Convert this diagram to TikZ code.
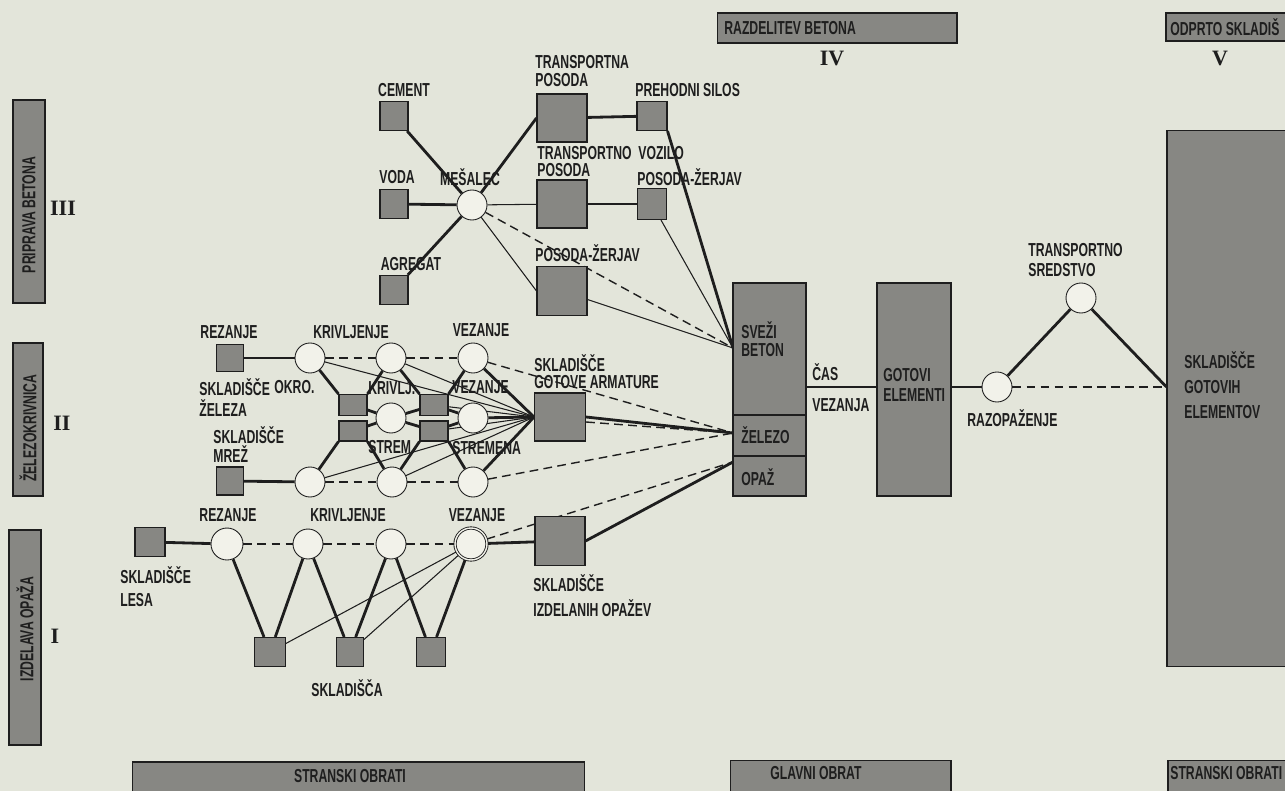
\documentclass[tikz,border=0pt]{standalone}
\usepackage{fontspec}
\setmainfont{Liberation Sans}[FakeStretch=0.65]
\newfontfamily\romfont{Liberation Serif}
\definecolor{bg}{HTML}{E3E5DA}
\definecolor{boxfill}{HTML}{878783}
\definecolor{circfill}{HTML}{F2F2EA}
\definecolor{ink}{HTML}{1E1E1E}
\pgfdeclarelayer{bgl}
\pgfdeclarelayer{edges}
\pgfsetlayers{bgl,edges,main}
\begin{document}
\begin{tikzpicture}[x=0.02cm,y=-0.02cm,
  lbl/.style={font=\bfseries\fontsize{10.7}{11}\selectfont, text=ink, inner sep=0},
  rom/.style={font=\romfont\bfseries\fontsize{12.5}{13}\selectfont, text=ink, inner sep=0},
  box/.style={draw=ink, line width=0.6pt, fill=boxfill, inner sep=0, minimum width=0.56cm, minimum height=0.58cm},
  bigbox/.style={box, minimum width=1cm, minimum height=0.96cm},
  tinybox/.style={box, minimum height=0.42cm},
  circ/.style={circle, draw=ink, line width=0.5pt, fill=circfill, minimum size=0.6cm, inner sep=0},
  thk/.style={line width=1.6pt, draw=ink},
  thn/.style={line width=0.6pt, draw=ink},
  dsh/.style={line width=0.8pt, draw=ink, dash pattern=on 5pt off 3pt},
  bar/.style={draw=ink, fill=boxfill, line width=0.6pt, inner sep=0}]
\useasboundingbox (0,0) rectangle (1285,791);
\clip (0,0) rectangle (1285,791);
\begin{pgfonlayer}{bgl}
\fill[bg] (0,0) rectangle (1285,791);
\end{pgfonlayer}

% ---------- bars ----------
\node[bar, minimum width=0.64cm, minimum height=4.06cm] (b3) at (29,201.5) {};
\node[lbl, rotate=90] (b3t) at (29,215) {PRIPRAVA BETONA};
\node[bar, minimum width=0.6cm, minimum height=3.06cm] (b2) at (28,419.5) {};
\node[lbl, rotate=90] (b2t) at (28,428) {ŽELEZOKRIVNICA};
\node[bar, minimum width=0.64cm, minimum height=4.3cm] (b1) at (25,637.5) {};
\node[lbl, rotate=90] (b1t) at (25,629) {IZDELAVA OPAŽA};
\node[rom] (r3) at (63,208) {III};
\node[rom] (r2) at (62,423) {II};
\node[rom] (r1) at (55,636) {I};

\node[bar, minimum width=4.8cm, minimum height=0.6cm] (razd) at (837,28) {};
\node[lbl, anchor=west] (razdt) at (724,28) {RAZDELITEV BETONA};
\node[rom] (r4) at (832,58) {IV};
\node[bar, minimum width=2.68cm, minimum height=0.56cm] (odp) at (1233,27) {};
\node[lbl, anchor=west] (odpt) at (1170,27) {ODPRTO SKLADIŠ};
\node[rom] (r5) at (1220,58) {V};

\node[bar, minimum width=9.06cm, minimum height=0.76cm] (sob) at (358.5,781) {};
\node[lbl] (sobt) at (350,776) {STRANSKI OBRATI};
\node[bar, minimum width=4.42cm, minimum height=0.78cm] (gob) at (840.5,780) {};
\node[lbl] (gobt) at (816,773) {GLAVNI OBRAT};
\node[bar, minimum width=2.64cm, minimum height=0.78cm] (sob2) at (1234,780) {};
\node[lbl, anchor=west] (sob2t) at (1170,773) {STRANSKI OBRATI};

% ---------- right part ----------
\node[bar, minimum width=2.66cm, minimum height=10.74cm] (big) at (1233.5,398.5) {};
\node[lbl, anchor=west] at (1184,360) {SKLADIŠČE};
\node[lbl, anchor=west] at (1184,387) {GOTOVIH};
\node[lbl, anchor=west] at (1184,412) {ELEMENTOV};

\node[bar, minimum width=1.46cm, minimum height=2.64cm] (svezi) at (769.5,349) {};
\node[bar, minimum width=1.46cm, minimum height=0.82cm] (zel) at (769.5,435.5) {};
\node[bar, minimum width=1.46cm, minimum height=0.8cm] (opz) at (769.5,476) {};
\node[lbl, anchor=west] at (741,330) {SVEŽI};
\node[lbl, anchor=west] at (741,350) {BETON};
\node[lbl, anchor=west] at (741,435) {ŽELEZO};
\node[lbl, anchor=west] at (741,477) {OPAŽ};
\node[lbl, anchor=west] at (812,372) {ČAS};
\node[lbl, anchor=west] at (812,405) {VEZANJA};

\node[bar, minimum width=1.48cm, minimum height=4.26cm] (gotovi) at (914,389.5) {};
\node[lbl, anchor=west] at (883,375) {GOTOVI};
\node[lbl, anchor=west] at (883,395) {ELEMENTI};

\node[circ] (raz) at (997,387) {};
\node[circ] (trans) at (1081,298) {};
\node[lbl, anchor=west] at (967,418) {RAZOPAŽENJE};
\node[lbl, anchor=west] at (1028,250) {TRANSPORTNO};
\node[lbl, anchor=west] at (1028,270) {SREDSTVO};

\coordinate (sv) at (733,348);
\coordinate (zl) at (733,433);
\coordinate (ol) at (733,462);

% ---------- section III ----------
\node[box] (cem) at (394,116) {};
\node[box] (vod) at (394,204) {};
\node[box] (agr) at (394,290) {};
\node[circ] (mes) at (472,205) {};
\node[bigbox] (tp1) at (562,118) {};
\node[bigbox] (tp2) at (562,204) {};
\node[bigbox, minimum height=0.98cm] (tp3) at (562,291) {};
\node[box, minimum width=0.6cm] (ps) at (652,116) {};
\node[box, minimum width=0.58cm, minimum height=0.62cm] (pz) at (652,204) {};

\node[lbl] at (404,90) {CEMENT};
\node[lbl] at (397,177) {VODA};
\node[lbl] at (411,264) {AGREGAT};
\node[lbl] at (470,177) {MEŠALEC};
\node[lbl, anchor=west] at (535,62) {TRANSPORTNA};
\node[lbl, anchor=west] at (535,80) {POSODA};
\node[lbl, anchor=west] at (635,90) {PREHODNI SILOS};
\node[lbl, anchor=west] at (537,153) {TRANSPORTNO};
\node[lbl, anchor=west] at (638,153) {VOZILO};
\node[lbl, anchor=west] at (537,170) {POSODA};
\node[lbl, anchor=west] at (637,177) {POSODA-ŽERJAV};
\node[lbl, anchor=west] at (535,253) {POSODA-ŽERJAV};

% ---------- section II ----------
\node[box, minimum width=0.54cm, minimum height=0.54cm] (rez) at (230,358) {};
\node[circ] (c1) at (310,358) {};
\node[circ] (c2) at (391,358) {};
\node[circ] (ctop) at (473,358) {};
\node[tinybox] (a1) at (353,405) {};
\node[tinybox, minimum height=0.4cm] (a2) at (353,431) {};
\node[circ] (c3) at (391,418) {};
\node[tinybox] (b1) at (434,405) {};
\node[tinybox, minimum height=0.4cm] (b2) at (434,431) {};
\node[circ] (cmid) at (473,418) {};
\node[box, minimum width=0.54cm, minimum height=0.56cm] (mrez) at (230,481) {};
\node[circ] (c4) at (310,482) {};
\node[circ] (c5) at (392,482) {};
\node[circ] (cbot) at (473,482) {};
\node[bigbox, minimum width=1.02cm] (arm) at (560,417) {};

\node[lbl] at (229,332) {REZANJE};
\node[lbl] at (351,332) {KRIVLJENJE};
\node[lbl] at (481,330) {VEZANJE};
\node[lbl, anchor=west] at (199,387) {SKLADIŠČE};
\node[lbl, anchor=west] at (274,387) {OKRO.};
\node[lbl, anchor=west] at (199,408) {ŽELEZA};
\node[lbl, anchor=west] at (368,388) {KRIVLJ.};
\node[lbl, anchor=west] at (452,387) {VEZANJE};
\node[lbl, anchor=west] at (213,435) {SKLADIŠČE};
\node[lbl, anchor=west] at (213,454) {MREŽ};
\node[lbl, anchor=west] at (368,447) {STREM.};
\node[lbl, anchor=west] at (452,448) {STREMENA};
\node[lbl, anchor=west] at (534,363) {SKLADIŠČE};
\node[lbl, anchor=west] at (534,382) {GOTOVE ARMATURE};

% ---------- section I ----------
\node[box, minimum width=0.6cm] (lesa) at (150,542) {};
\node[circ, minimum size=0.64cm] (r) at (227,544) {};
\node[circ] (k1) at (308,544) {};
\node[circ] (k2) at (391,544) {};
\node[circ, minimum size=0.64cm, double=circfill, double distance=0.8pt] (v) at (471,544) {};
\node[box, minimum width=0.62cm] (s1) at (270,652) {};
\node[box, minimum width=0.54cm] (s2) at (350,652) {};
\node[box, minimum width=0.58cm] (s3) at (431,652) {};
\node[bigbox, minimum height=0.98cm] (izd) at (560,541) {};

\node[lbl] at (228,515) {REZANJE};
\node[lbl] at (348,515) {KRIVLJENJE};
\node[lbl] at (477,515) {VEZANJE};
\node[lbl, anchor=west] at (120,575) {SKLADIŠČE};
\node[lbl, anchor=west] at (120,600) {LESA};
\node[lbl] at (347,688) {SKLADIŠČA};
\node[lbl, anchor=west] at (533,583) {SKLADIŠČE};
\node[lbl, anchor=west] at (533,608) {IZDELANIH OPAŽEV};

% ---------- connectors ----------
\begin{pgfonlayer}{edges}
% section III
\draw[thk] (cem) -- (mes);
\draw[thk] (vod) -- (mes);
\draw[thk] (agr) -- (mes);
\draw[thk] (mes) -- (tp1.west);
\draw[thn] (mes) -- (tp2);
\draw[thn] (tp2) -- (pz);
\draw[thn] (mes) -- (tp3.west);
\draw[thk] (tp1) -- (ps);
\draw[thk] (ps.south east) -- (sv);
\draw[thn] (pz) -- (sv);
\draw[thn] (tp3) -- (sv);
\draw[dsh] (mes) -- (sv);

% section II
\draw[thk] (rez) -- (c1);
\draw[dsh] (c1) -- (c2);
\draw[dsh] (c2) -- (ctop);
\draw[dsh] (ctop) -- (zl);
\draw[thk] (c1) -- (a1.north west);
\draw[thk] (c2) -- (a1.north east);
\draw[thk] (c2) -- (b1.north west);
\draw[thk] (ctop) -- (b1.north east);
\draw[thk] (ctop) -- (arm.west);
\draw[thk] (a1) -- (c3);
\draw[thk] (a2) -- (c3);
\draw[thk] (c3) -- (b1);
\draw[thk] (c3) -- (b2);
\draw[thk] (b1) -- (cmid);
\draw[thk] (b2) -- (cmid);
\draw[thk] (cmid) -- (arm.west);
\draw[thk] (mrez) -- (c4);
\draw[dsh] (c4) -- (c5);
\draw[dsh] (c5) -- (cbot);
\draw[thk] (a2.south west) -- (c4);
\draw[thk] (a2.south east) -- (c5);
\draw[thk] (b2.south west) -- (c5);
\draw[thk] (b2.south east) -- (cbot);
\draw[thk] (cbot) -- (arm.west);
\draw[thn] (c1) -- (arm.west);
\draw[thn] (c2) -- (arm.west);
\draw[thn] (b1) -- (arm.west);
\draw[thn] (c4) -- (arm.west);
\draw[thn] (c5) -- (arm.west);
\draw[thn] (b2) -- (arm.west);
\draw[dsh] (cbot) -- (zl);
\draw[thk] (arm.east) -- (zl);
\draw[dsh] ([yshift=-0.1cm]arm.east) -- (zl);

% section I
\draw[thk] (lesa) -- (r);
\draw[dsh] (r) -- (k1);
\draw[dsh] (k1) -- (k2);
\draw[dsh] (k2) -- (v);
\draw[thk] (v) -- (izd);
\draw[dsh] (v) -- (ol);
\draw[thk] (izd.east) -- (ol);
\draw[thk] (r) -- (s1);
\draw[thk] (k1) -- (s1);
\draw[thk] (k1) -- (s2);
\draw[thk] (k2) -- (s2);
\draw[thk] (k2) -- (s3);
\draw[thk] (v) -- (s3);
\draw[thn] (v) -- (s1);
\draw[thn] (v) -- (s2);

% right
\draw[thk] (raz -| svezi.east) -- (raz -| gotovi.west);
\draw[thk] (raz -| gotovi.east) -- (raz);
\draw[thk] (raz) -- (trans);
\draw[thk] (trans) -- (raz -| big.west);
\draw[dsh] (raz) -- (raz -| big.west);
\end{pgfonlayer}
\end{tikzpicture}
\end{document}
